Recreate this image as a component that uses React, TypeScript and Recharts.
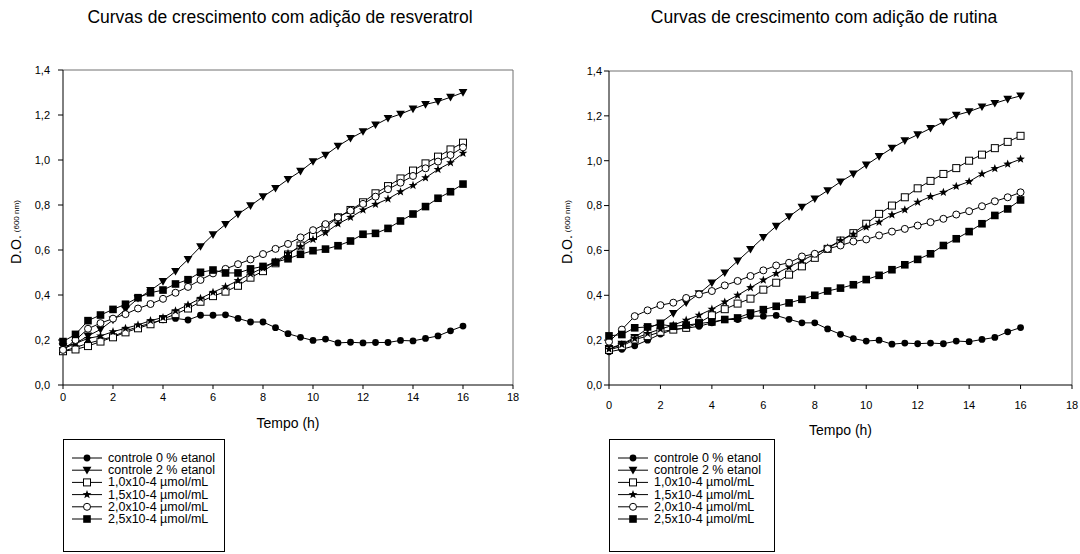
import React from 'react';
import { LineChart, Line, XAxis, YAxis, ReferenceLine, Label } from 'recharts';

const FONT = '"Liberation Sans", Arial, Helvetica, sans-serif';

// sampling times (h)
const tempo = [
  0, 0.5, 1, 1.5, 2, 2.5, 3, 3.5, 4, 4.5, 5, 5.5, 6, 6.5, 7, 7.5, 8,
  8.5, 9, 9.5, 10, 10.5, 11, 11.5, 12, 12.5, 13, 13.5, 14, 14.5, 15, 15.5, 16,
];

const xTicks = [0, 2, 4, 6, 8, 10, 12, 14, 16, 18];
const yTicks = [0, 0.2, 0.4, 0.6, 0.8, 1.0, 1.2, 1.4];

const legendNames = [
  'controle 0 % etanol',
  'controle 2 % etanol',
  '1,0x10-4 µmol/mL',
  '1,5x10-4 µmol/mL',
  '2,0x10-4 µmol/mL',
  '2,5x10-4 µmol/mL',
];
const shapes = ['dot', 'triangle', 'square', 'star', 'ring', 'block'];

// --- resveratrol ---
const resvControle0 = [
  0.15, 0.167, 0.185, 0.2, 0.215, 0.24, 0.259, 0.274, 0.29, 0.296, 0.289, 0.31, 0.31, 0.312, 0.296, 0.28, 0.28,
  0.255, 0.228, 0.212, 0.198, 0.204, 0.187, 0.19, 0.187, 0.189, 0.189, 0.198, 0.196, 0.207, 0.218, 0.241, 0.262,
];
const resvControle2 = [
  0.17, 0.185, 0.218, 0.247, 0.289, 0.336, 0.385, 0.42, 0.46, 0.505, 0.558, 0.615, 0.668, 0.714, 0.759, 0.797, 0.837,
  0.874, 0.914, 0.95, 0.993, 1.022, 1.062, 1.096, 1.126, 1.156, 1.185, 1.204, 1.227, 1.247, 1.26, 1.279, 1.3,
];
const resv10 = [
  0.15, 0.158, 0.173, 0.193, 0.212, 0.234, 0.252, 0.27, 0.293, 0.315, 0.34, 0.37, 0.395, 0.415, 0.441, 0.477, 0.506,
  0.541, 0.58, 0.62, 0.662, 0.702, 0.745, 0.778, 0.812, 0.852, 0.884, 0.918, 0.953, 0.985, 1.015, 1.047, 1.077,
];
const resv15 = [
  0.16, 0.185, 0.207, 0.218, 0.237, 0.252, 0.267, 0.286, 0.3, 0.33, 0.356, 0.385, 0.412, 0.437, 0.464, 0.494, 0.52,
  0.548, 0.585, 0.615, 0.647, 0.677, 0.716, 0.745, 0.778, 0.803, 0.827, 0.859, 0.887, 0.921, 0.958, 0.988, 1.03,
];
const resv20 = [
  0.156, 0.2, 0.25, 0.275, 0.295, 0.315, 0.34, 0.36, 0.383, 0.41, 0.436, 0.467, 0.496, 0.516, 0.537, 0.558, 0.582,
  0.605, 0.627, 0.656, 0.688, 0.715, 0.745, 0.775, 0.805, 0.837, 0.87, 0.899, 0.929, 0.963, 0.993, 1.022, 1.056,
];
const resv25 = [
  0.193, 0.225, 0.286, 0.311, 0.336, 0.359, 0.388, 0.41, 0.422, 0.449, 0.468, 0.501, 0.511, 0.498, 0.498, 0.516, 0.527,
  0.546, 0.561, 0.581, 0.597, 0.604, 0.619, 0.64, 0.67, 0.674, 0.696, 0.729, 0.76, 0.793, 0.83, 0.859, 0.893,
];

// --- rutina ---
const rutControle0 = [
  0.148, 0.159, 0.175, 0.2, 0.227, 0.247, 0.253, 0.262, 0.277, 0.292, 0.292, 0.307, 0.307, 0.31, 0.293, 0.277, 0.277,
  0.25, 0.226, 0.207, 0.196, 0.2, 0.182, 0.187, 0.184, 0.187, 0.184, 0.196, 0.193, 0.203, 0.212, 0.237, 0.256,
];
const rutControle2 = [
  0.163, 0.182, 0.212, 0.252, 0.277, 0.319, 0.366, 0.407, 0.455, 0.5, 0.553, 0.605, 0.658, 0.708, 0.751, 0.793, 0.83,
  0.867, 0.906, 0.941, 0.981, 1.019, 1.056, 1.089, 1.116, 1.144, 1.173, 1.203, 1.219, 1.24, 1.256, 1.274, 1.289,
];
const rut10 = [
  0.156, 0.173, 0.203, 0.218, 0.237, 0.247, 0.255, 0.277, 0.311, 0.338, 0.363, 0.385, 0.425, 0.456, 0.492, 0.529, 0.567,
  0.607, 0.644, 0.677, 0.719, 0.763, 0.8, 0.837, 0.877, 0.91, 0.941, 0.967, 1.0, 1.027, 1.056, 1.084, 1.111,
];
const rut15 = [
  0.16, 0.18, 0.207, 0.23, 0.249, 0.267, 0.289, 0.311, 0.338, 0.37, 0.4, 0.434, 0.468, 0.497, 0.526, 0.555, 0.583,
  0.612, 0.644, 0.672, 0.704, 0.726, 0.759, 0.781, 0.815, 0.84, 0.859, 0.886, 0.907, 0.941, 0.965, 0.985, 1.007,
];
const rut20 = [
  0.193, 0.247, 0.307, 0.333, 0.356, 0.367, 0.388, 0.404, 0.419, 0.444, 0.464, 0.486, 0.511, 0.533, 0.545, 0.573, 0.585,
  0.607, 0.622, 0.64, 0.649, 0.667, 0.684, 0.696, 0.711, 0.726, 0.741, 0.76, 0.775, 0.797, 0.819, 0.837, 0.859,
];
const rut25 = [
  0.219, 0.225, 0.255, 0.259, 0.27, 0.262, 0.267, 0.274, 0.281, 0.292, 0.299, 0.321, 0.336, 0.351, 0.366, 0.382, 0.4,
  0.419, 0.432, 0.447, 0.47, 0.489, 0.514, 0.536, 0.56, 0.585, 0.622, 0.652, 0.684, 0.719, 0.756, 0.785, 0.825,
];

const keys = ['s0', 's1', 's2', 's3', 's4', 's5'];

function buildRows(series: number[][]) {
  return tempo.map((t, i) => {
    const row: Record<string, number> = { t };
    series.forEach((s, k) => (row[keys[k]] = s[i]));
    return row;
  });
}

function starPoints(cx: number, cy: number, R: number, r: number) {
  const pts: string[] = [];
  for (let i = 0; i < 10; i++) {
    const a = -Math.PI / 2 + (i * Math.PI) / 5;
    const rad = i % 2 === 0 ? R : r;
    pts.push(`${cx + rad * Math.cos(a)},${cy + rad * Math.sin(a)}`);
  }
  return pts.join(' ');
}

function Marker({ shape, cx, cy }: { shape: string; cx: number; cy: number }) {
  if (cx == null || cy == null) return null;
  switch (shape) {
    case 'dot':
      return <circle cx={cx} cy={cy} r={3.4} fill="#000" />;
    case 'triangle':
      return (
        <polygon
          points={`${cx - 4.4},${cy - 3.4} ${cx + 4.4},${cy - 3.4} ${cx},${cy + 4.2}`}
          fill="#000"
        />
      );
    case 'square':
      return <rect x={cx - 3.5} y={cy - 3.5} width={7} height={7} fill="#fff" stroke="#000" strokeWidth={1} />;
    case 'star':
      return <polygon points={starPoints(cx, cy, 4.6, 1.9)} fill="#000" />;
    case 'ring':
      return <circle cx={cx} cy={cy} r={3.5} fill="#fff" stroke="#000" strokeWidth={1} />;
    default:
      return <rect x={cx - 3.8} y={cy - 3.8} width={7.6} height={7.6} fill="#000" />;
  }
}

const fmt = (v: number) => v.toFixed(1).replace('.', ',');

type PanelProps = {
  left: number;
  title: string;
  titleCenter: number;
  rows: Record<string, number>[];
  yAxisWidth: number;
  top: number;
  right: number;
  yTickMargin: number;
  xTickMargin: number;
  labelDx: number;
  tempoY: number;
  legendW: number;
};

function Panel(p: PanelProps) {
  const plotBottom = 385;
  const xAxisH = 30;
  return (
    <div style={{ position: 'absolute', left: p.left, top: 0, width: 540, height: 554 }}>
      <div
        style={{
          position: 'absolute',
          left: p.titleCenter - 260,
          width: 520,
          top: 7,
          textAlign: 'center',
          fontSize: 17.5,
          lineHeight: '20px',
          fontFamily: FONT,
          color: '#000',
        }}
      >
        {p.title}
      </div>
      <div style={{ position: 'absolute', left: 0, top: 0 }}>
        <LineChart
          width={540}
          height={554}
          data={p.rows}
          margin={{ top: p.top, right: p.right, left: 0, bottom: 554 - plotBottom - xAxisH }}
        >
          <XAxis
            dataKey="t"
            type="number"
            domain={[0, 18]}
            ticks={xTicks}
            interval={0}
            height={xAxisH}
            tickSize={4}
            tickMargin={p.xTickMargin}
            axisLine={{ stroke: '#000' }}
            tickLine={{ stroke: '#000' }}
            tick={{ fontSize: 11, fill: '#000', fontFamily: FONT }}
          >
            <Label
              content={(lp: any) => {
                const vb = lp.viewBox || {};
                return (
                  <text
                    x={vb.x + vb.width / 2}
                    y={p.tempoY}
                    textAnchor="middle"
                    dominantBaseline="central"
                    fontSize={14}
                    fontFamily={FONT}
                    fill="#000"
                  >
                    Tempo (h)
                  </text>
                );
              }}
            />
          </XAxis>
          <YAxis
            type="number"
            domain={[0, 1.4]}
            ticks={yTicks}
            interval={0}
            width={p.yAxisWidth}
            tickSize={5}
            tickMargin={p.yTickMargin}
            tickFormatter={fmt}
            axisLine={{ stroke: '#000' }}
            tickLine={{ stroke: '#000' }}
            tick={{ fontSize: 11, fill: '#000', fontFamily: FONT }}
          >
            <Label
              content={(lp: any) => {
                const vb = lp.viewBox || {};
                const x = vb.x + p.labelDx;
                const y = 264;
                return (
                  <text
                    x={x}
                    y={y}
                    transform={`rotate(-90 ${x} ${y})`}
                    textAnchor="start"
                    dominantBaseline="central"
                    fontFamily={FONT}
                    fill="#000"
                  >
                    <tspan fontSize={14}>D.O.</tspan>
                    <tspan fontSize={8} dx={3}>
                      (600 nm)
                    </tspan>
                  </text>
                );
              }}
            />
          </YAxis>
          <ReferenceLine y={1.4} stroke="#707070" strokeWidth={1} />
          <ReferenceLine x={18} stroke="#707070" strokeWidth={1} />
          {keys.map((k, i) => (
            <Line
              key={k}
              type="linear"
              dataKey={k}
              name={legendNames[i]}
              stroke="#000"
              strokeWidth={1}
              isAnimationActive={false}
              activeDot={false}
              dot={(dp: any) => <Marker key={`${k}-${dp.index}`} shape={shapes[i]} cx={dp.cx} cy={dp.cy} />}
            />
          ))}
        </LineChart>
      </div>
      <svg
        style={{ position: 'absolute', left: p.yAxisWidth, top: 439 }}
        width={p.legendW + 1}
        height={114}
      >
        <rect x={0.5} y={0.5} width={p.legendW} height={112} fill="#fff" stroke="#000" strokeWidth={1} />
        {legendNames.map((name, i) => {
          const y = 19 + i * 12.2;
          return (
            <g key={name}>
              <line x1={9} x2={39} y1={y} y2={y} stroke="#000" strokeWidth={1} />
              <Marker shape={shapes[i]} cx={24} cy={y} />
              <text x={45} y={y} dominantBaseline="central" fontSize={12.5} fontFamily={FONT} fill="#000">
                {name}
              </text>
            </g>
          );
        })}
      </svg>
    </div>
  );
}

const resvRows = buildRows([resvControle0, resvControle2, resv10, resv15, resv20, resv25]);
const rutRows = buildRows([rutControle0, rutControle2, rut10, rut15, rut20, rut25]);

export default function App() {
  return (
    <div
      style={{
        position: 'absolute',
        left: 0,
        top: 0,
        width: 1080,
        height: 554,
        background: '#fff',
        overflow: 'hidden',
      }}
    >
      <Panel
        left={0}
        title="Curvas de crescimento com adição de resveratrol"
        titleCenter={280}
        rows={resvRows}
        yAxisWidth={63}
        top={70}
        right={27}
        yTickMargin={8}
        xTickMargin={4}
        labelDx={16}
        tempoY={423}
        legendW={161}
      />
      <Panel
        left={540}
        title="Curvas de crescimento com adição de rutina"
        titleCenter={284}
        rows={rutRows}
        yAxisWidth={69}
        top={71}
        right={8}
        yTickMargin={2}
        xTickMargin={12}
        labelDx={27}
        tempoY={430}
        legendW={165}
      />
    </div>
  );
}
